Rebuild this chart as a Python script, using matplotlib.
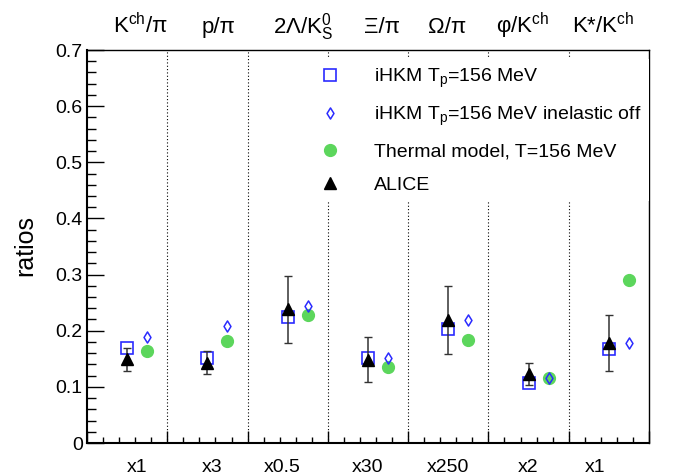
import matplotlib
matplotlib.use("Agg")
import matplotlib.pyplot as plt
from matplotlib.lines import Line2D
from matplotlib.path import Path
from matplotlib.ticker import MultipleLocator, NullFormatter

plt.rcParams["font.family"] = ["Liberation Sans", "DejaVu Sans"]
plt.rcParams["mathtext.fontset"] = "custom"
plt.rcParams["mathtext.rm"] = "Liberation Sans"
plt.rcParams["mathtext.it"] = "Liberation Sans:italic"
plt.rcParams["mathtext.default"] = "rm"

# ratio names (top) and scale factors (bottom)
ratio_names = ["K$^{ch}$/π", "p/π", "2Λ/K$^{0}_{S}$", "Ξ/π", "Ω/π", "φ/K$^{ch}$", "K*/K$^{ch}$"]
scale_labels = ["x1", "x3", "x0.5", "x30", "x250", "x2", "x1"]

ihkm = [0.170, 0.152, 0.224, 0.152, 0.203, 0.106, 0.168]
ihkm_inel_off = [0.189, 0.209, 0.244, 0.151, 0.219, 0.115, 0.179]
thermal = [0.163, 0.182, 0.228, 0.135, 0.184, 0.116, 0.290]
alice = [0.149, 0.143, 0.238, 0.148, 0.219, 0.123, 0.178]
alice_err = [0.020, 0.020, 0.060, 0.040, 0.060, 0.020, 0.050]

BLUE = "#2b2bff"
GREEN = "#5cd65c"


def main() -> None:
    fig = plt.figure(figsize=(6.75, 4.76), dpi=100)
    ax = fig.add_axes([87 / 675, 33 / 476, 562 / 675, 393 / 476])

    n = len(ratio_names)
    x_left = [i + 0.5 for i in range(n)]
    x_right = [i + 0.75 for i in range(n)]

    thin_diamond = Path([(0, 1), (0.62, 0), (0, -1), (-0.62, 0), (0, 1)],
                        [Path.MOVETO, Path.LINETO, Path.LINETO, Path.LINETO, Path.CLOSEPOLY])

    for i in range(1, n):
        ax.axvline(i, color="black", lw=0.8, ls=(0, (1, 2)), zorder=1)

    ax.plot(x_right, thermal, ls="none", marker="o", ms=8.5, color=GREEN,
            mec=GREEN, zorder=3)
    ax.plot(x_right, ihkm_inel_off, ls="none", marker=thin_diamond, ms=8,
            mfc="none", mec=BLUE, mew=1.1, zorder=4)
    ax.plot(x_left, ihkm, ls="none", marker="s", ms=8.5, mfc="none",
            mec=BLUE, mew=1.2, zorder=4)
    ax.errorbar(x_left, alice, yerr=alice_err, ls="none", marker="^", ms=8,
                color="black", ecolor="#333333", elinewidth=1.1, capsize=3,
                capthick=1.0, zorder=5)

    ax.set_xlim(0, n)
    ax.set_ylim(0, 0.7)
    ax.yaxis.set_major_locator(MultipleLocator(0.1))
    ax.yaxis.set_minor_locator(MultipleLocator(0.02))
    ax.xaxis.set_major_locator(MultipleLocator(1))
    ax.xaxis.set_minor_locator(MultipleLocator(0.2))
    ax.xaxis.set_major_formatter(NullFormatter())
    ax.set_yticklabels([f"{v:g}" for v in ax.get_yticks()])
    ax.tick_params(axis="y", which="major", direction="in", length=12, width=1.0,
                   labelsize=14, pad=3)
    ax.tick_params(axis="y", which="minor", direction="in", length=6.5, width=1.0)
    ax.tick_params(axis="x", which="major", direction="in", length=9, width=1.0)
    ax.tick_params(axis="x", which="minor", direction="in", length=4.5, width=1.0)

    for side in ("left", "bottom"):
        ax.spines[side].set_linewidth(1.5)
    for side in ("top", "right"):
        ax.spines[side].set_linewidth(1.0)

    top_pos = [0.67, 1.64, 2.69, 3.67, 4.49, 5.42, 6.43]
    bot_pos = [0.62, 1.56, 2.43, 3.49, 4.5, 5.49, 6.33]
    trans = ax.get_xaxis_transform()
    for xp, name in zip(top_pos, ratio_names):
        ax.text(xp, 1 + 17 / 393, name, transform=trans, ha="center",
                va="baseline", fontsize=16)
    for xp, lab in zip(bot_pos, scale_labels):
        ax.text(xp, -29 / 393, lab, transform=trans, ha="center",
                va="baseline", fontsize=14)

    fig.text(25 / 675, 1 - 246 / 476, "ratios", rotation=90, ha="center",
             va="center", fontsize=18)

    handles = [
        Line2D([], [], ls="none", marker="s", ms=8.5, mfc="none", mec=BLUE, mew=1.2),
        Line2D([], [], ls="none", marker=thin_diamond, ms=8, mfc="none", mec=BLUE, mew=1.1),
        Line2D([], [], ls="none", marker="o", ms=8.5, color=GREEN),
        Line2D([], [], ls="none", marker="^", ms=8, color="black"),
    ]
    labels = ["iHKM T$_{p}$=156 MeV", "iHKM T$_{p}$=156 MeV inelastic off",
              "Thermal model, T=156 MeV", "ALICE"]
    leg = ax.legend(handles, labels,
                    loc="upper left", bbox_to_anchor=(0.401, 0.978),
                    borderaxespad=0, fontsize=14, handlelength=1.0,
                    handletextpad=1.77, labelspacing=0.78, borderpad=0.4,
                    frameon=True, fancybox=False, numpoints=1)
    leg.get_frame().set_edgecolor("none")
    leg.get_frame().set_facecolor("white")
    leg.get_frame().set_alpha(1.0)
    leg.set_zorder(6)

    fig.savefig("out.png", dpi=100)


if __name__ == "__main__":
    main()
